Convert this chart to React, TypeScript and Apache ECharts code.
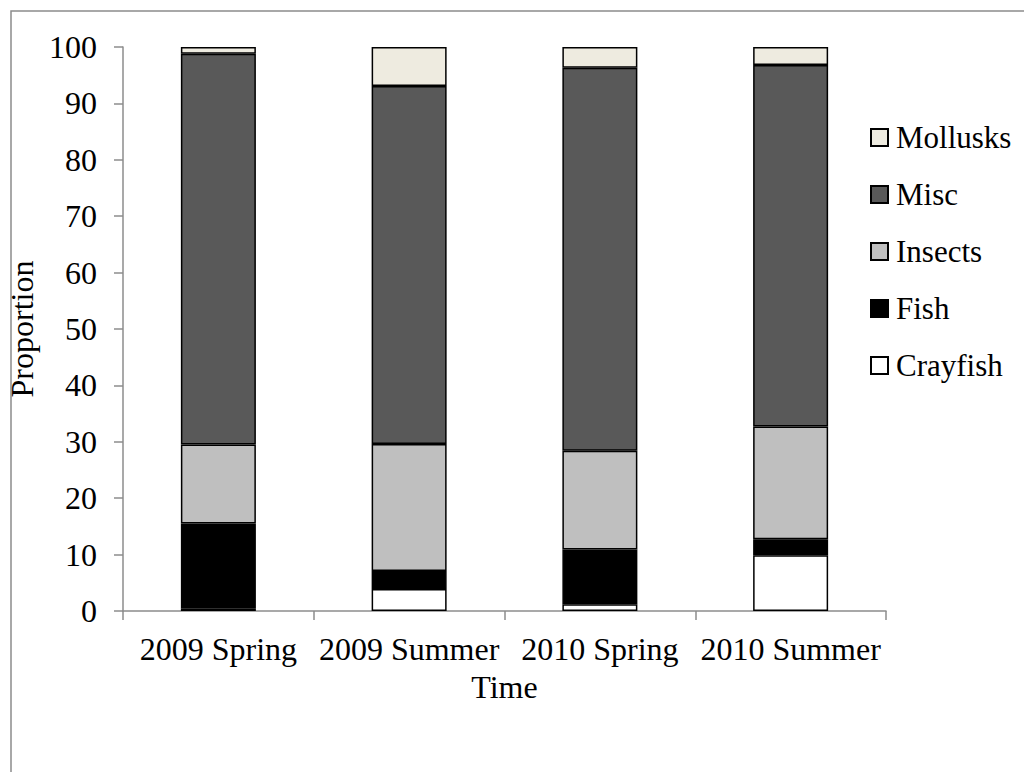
import React, { useEffect, useRef } from "react";
import * as echarts from "echarts";

const categories = ["2009 Spring", "2009 Summer", "2010 Spring", "2010 Summer"];
const yTicks = { min: 0, max: 100, interval: 10 };

const crayfish = [0.4, 3.9, 1.2, 9.9];
const fish = [15.1, 3.2, 9.7, 2.8];
const insects = [14.0, 22.5, 17.5, 20.0];
const misc = [69.3, 63.5, 67.9, 64.1];
const mollusks = [1.2, 6.9, 3.7, 3.2];

const seriesNames = ["Crayfish", "Fish", "Insects", "Misc", "Mollusks"];
const seriesData = [crayfish, fish, insects, misc, mollusks];
const seriesColors = ["#FFFFFF", "#000000", "#BFBFBF", "#595959", "#EEEBE0"];
const legendOrder = ["Mollusks", "Misc", "Insects", "Fish", "Crayfish"];

const FONT = "Liberation Serif";

export default function App() {
  const ref = useRef<HTMLDivElement>(null);
  useEffect(() => {
    if (!ref.current) return;
    const chart = echarts.init(ref.current, null, { renderer: "svg" });
    const axisGray = "#8C8C8C";
    chart.setOption({
      animation: false,
      backgroundColor: "#FFFFFF",
      graphic: [
        {
          type: "rect",
          shape: { x: 11, y: 11, width: 1040, height: 800 },
          style: { fill: "none", stroke: axisGray, lineWidth: 1.5 },
          silent: true,
        },
      ],
      grid: {
        left: 123,
        right: 138,
        top: 47,
        bottom: 161,
        outerBoundsMode: "none",
        containLabel: false,
      },
      legend: {
        orient: "vertical",
        left: 870,
        top: 122,
        padding: 0,
        data: legendOrder,
        itemWidth: 17,
        itemHeight: 17,
        itemGap: 26,
        icon: "rect",
        textStyle: {
          fontFamily: FONT,
          fontSize: 31,
          color: "#000",
          lineHeight: 30,
          padding: [0, 0, 0, 3],
        },
      },
      xAxis: {
        type: "category",
        data: categories,
        name: "Time",
        nameLocation: "middle",
        nameGap: 60,
        nameTextStyle: { fontFamily: FONT, fontSize: 32, color: "#000" },
        axisLine: { show: true, lineStyle: { color: axisGray, width: 1.5 } },
        axisTick: { show: true, length: 9, alignWithLabel: false, lineStyle: { color: axisGray, width: 1.5 } },
        axisLabel: { fontFamily: FONT, fontSize: 32, color: "#000", margin: 22, interval: 0 },
        splitLine: { show: false },
      },
      yAxis: {
        type: "value",
        min: yTicks.min,
        max: yTicks.max,
        interval: yTicks.interval,
        name: "Proportion",
        nameLocation: "middle",
        nameGap: 70,
        nameTextStyle: { fontFamily: FONT, fontSize: 32, color: "#000" },
        axisLine: { show: true, lineStyle: { color: axisGray, width: 1.5 } },
        axisTick: { show: true, length: 9, lineStyle: { color: axisGray, width: 1.5 } },
        axisLabel: { fontFamily: FONT, fontSize: 32, color: "#000", margin: 26 },
        splitLine: { show: false },
      },
      series: seriesNames.map((name, i) => ({
        name,
        type: "bar",
        stack: "total",
        barWidth: 75,
        data: seriesData[i],
        itemStyle: {
          color: seriesColors[i],
          borderColor: "#000",
          borderWidth: 1.5,
        },
        emphasis: { disabled: true },
      })),
    });
    return () => chart.dispose();
  }, []);
  return (
    <div
      ref={ref}
      style={{ position: "fixed", left: 0, top: 0, width: 1024, height: 772 }}
    />
  );
}
